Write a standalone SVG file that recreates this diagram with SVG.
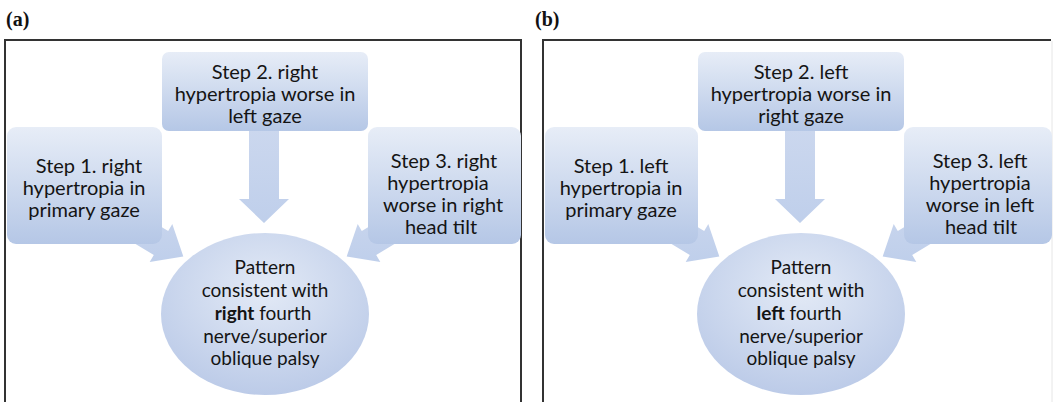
<svg xmlns="http://www.w3.org/2000/svg" width="1056" height="402" viewBox="0 0 1056 402">
<style>
.lbl{font-family:"Liberation Serif","Times New Roman",serif;font-weight:bold;font-size:20px;fill:#111}
.frame{fill:none;stroke:#333;stroke-width:2}
.box{fill:url(#boxg)}
.ell{fill:url(#ellg)}
.arr{fill:url(#arrg)}
.t{font-family:Lato,"Open Sans",sans-serif;font-size:20px;fill:#141414;text-anchor:middle}
.te{font-family:Lato,"Open Sans",sans-serif;font-size:19px;fill:#141414;text-anchor:middle}
.b{font-weight:bold}
</style>
<defs>
<linearGradient id="boxg" x1="0" y1="0" x2="0" y2="1">
<stop offset="0" stop-color="#e7edf7"/>
<stop offset="1" stop-color="#b5c7e6"/>
</linearGradient>
<radialGradient id="ellg" cx="0.5" cy="0.35" r="0.65">
<stop offset="0" stop-color="#e3eaf6"/>
<stop offset="1" stop-color="#bccbe8"/>
</radialGradient>
<linearGradient id="arrg" x1="0" y1="0" x2="0" y2="1">
<stop offset="0" stop-color="#cbd7ee"/>
<stop offset="1" stop-color="#bfcfeb"/>
</linearGradient>
</defs>

<text class="lbl" x="6" y="26">(a)</text>
<text class="lbl" x="535" y="26">(b)</text>
<path class="frame" d="M5,403 V40 H521 V403"/>
<path class="frame" d="M543,403 V40 H1051"/>
<line x1="1052" y1="41" x2="1052" y2="402" stroke="#e6e6e6" stroke-width="1"/>

<g id="connectors">
<polygon class="arr" points="249,130 279,130 279,199 289,199 264,223 239,199 249,199"/>
<polygon class="arr" points="116.8,200.1 168.2,231 172.3,224.1 183.3,256.4 149.7,261.9 153.8,255 102.4,224.1"/>
<polygon class="arr" points="413.2,200.1 361.8,231 357.7,224.1 346.7,256.4 380.3,261.9 376.2,255 427.6,224.1"/>
<polygon class="arr" points="785,130 815,130 815,199 825,199 800,223 775,199 785,199"/>
<polygon class="arr" points="652.8,200.1 704.2,231 708.3,224.1 719.3,256.4 685.7,261.9 689.8,255 638.4,224.1"/>
<polygon class="arr" points="949.2,200.1 897.8,231 893.7,224.1 882.7,256.4 916.3,261.9 912.2,255 963.6,224.1"/>
</g>

<g id="a-step1">
<rect class="box" x="7" y="127" width="155" height="117" rx="9"/>
<text class="t" x="89" y="173">Step 1. right</text>
<text class="t" x="84" y="195">hypertropia in</text>
<text class="t" x="84" y="217">primary gaze</text>
</g>
<g id="a-step2">
<rect class="box" x="162" y="52" width="206" height="79" rx="7"/>
<text class="t" x="265" y="79">Step 2. right</text>
<text class="t" x="265" y="101">hypertropia worse in</text>
<text class="t" x="265" y="123">left gaze</text>
</g>
<g id="a-step3">
<rect class="box" x="368" y="127" width="153" height="117" rx="9"/>
<text class="t" x="444" y="168">Step 3. right</text>
<text class="t" x="438" y="190">hypertropia</text>
<text class="t" x="443" y="212">worse in right</text>
<text class="t" x="441" y="234">head tilt</text>
</g>
<g id="a-result">
<ellipse class="ell" cx="265" cy="314" rx="104" ry="81"/>
<text class="te" x="265" y="274">Pattern</text>
<text class="te" x="265" y="297">consistent with</text>
<text class="te" x="263" y="320"><tspan class="b">right</tspan> fourth</text>
<text class="te" x="265" y="343">nerve/superior</text>
<text class="te" x="265" y="365">oblique palsy</text>
</g>

<g id="b-step1">
<rect class="box" x="545" y="127" width="153" height="117" rx="9"/>
<text class="t" x="621" y="173">Step 1. left</text>
<text class="t" x="621" y="195">hypertropia in</text>
<text class="t" x="621" y="217">primary gaze</text>
</g>
<g id="b-step2">
<rect class="box" x="698" y="52" width="206" height="79" rx="7"/>
<text class="t" x="801" y="79">Step 2. left</text>
<text class="t" x="801" y="101">hypertropia worse in</text>
<text class="t" x="801" y="123">right gaze</text>
</g>
<g id="b-step3">
<rect class="box" x="904" y="127" width="148" height="117" rx="9"/>
<text class="t" x="980" y="168">Step 3. left</text>
<text class="t" x="980" y="190">hypertropia</text>
<text class="t" x="980" y="212">worse in left</text>
<text class="t" x="981" y="234">head tilt</text>
</g>
<g id="b-result">
<ellipse class="ell" cx="801" cy="314" rx="104" ry="81"/>
<text class="te" x="801" y="274">Pattern</text>
<text class="te" x="801" y="297">consistent with</text>
<text class="te" x="799" y="320"><tspan class="b">left</tspan> fourth</text>
<text class="te" x="801" y="343">nerve/superior</text>
<text class="te" x="801" y="365">oblique palsy</text>
</g>
</svg>
